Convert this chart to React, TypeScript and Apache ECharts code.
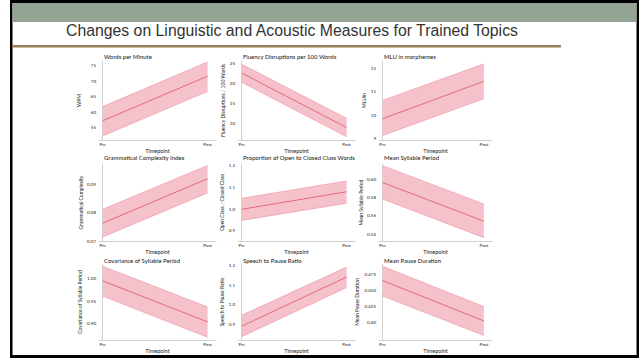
import React, { useEffect, useRef } from 'react';
import * as echarts from 'echarts';

// Model estimates for each measure: mean with confidence band at two timepoints
const timepoints = ['Pre', 'Post'];
const slideTitle = 'Changes on Linguistic and Acoustic Measures for Trained Topics';
const axisTitle = 'Timepoint';

const panelTitles = [
  'Words per Minute',
  'Fluency Disruptions per 100 Words',
  'MLU in morphemes',
  'Grammatical Complexity Index',
  'Proportion of Open to Closed Class Words',
  'Mean Syllable Period',
  'Covariance of Syllable Period',
  'Speech to Pause Ratio',
  'Mean Pause Duration',
];

const yAxisNames = [
  'WPM',
  'Fluency Disruptions / 100 Words',
  'MLUm',
  'Grammatical Complexity',
  'Open Class / Closed Class',
  'Mean Syllable Period',
  'Covariance of Syllable Period',
  'Speech to Pause Ratio',
  'Mean Pause Duration',
];

const preLow = [52.4, 20.2, 9.14, 0.0714, 0.948, 0.5785, 0.961, 0.836, 0.441];
const preMean = [57.3, 22.5, 9.85, 0.0763, 0.999, 0.5964, 0.9946, 0.89, 0.465];
const preHigh = [61.9, 24.7, 10.63, 0.0812, 1.05, 0.6147, 1.027, 0.946, 0.487];
const postLow = [66.8, 6.6, 10.7, 0.087, 1.027, 0.5364, 0.87, 1.088, 0.38];
const postMean = [71.7, 8.9, 11.44, 0.092, 1.08, 0.5543, 0.904, 1.142, 0.4025];
const postHigh = [76.3, 11.2, 12.18, 0.0967, 1.13, 0.573, 0.937, 1.193, 0.4247];

const yMin = [51.1, 5.8, 8.95, 0.07, 0.853, 0.5328, 0.864, 0.819, 0.373];
const yMax = [76.6, 25.5, 12.3, 0.0972, 1.208, 0.6165, 1.032, 1.209, 0.4906];

const tickValues = [
  [55, 60, 65, 70, 75],
  [10, 15, 20, 25],
  [9, 10, 11, 12],
  [0.07, 0.08, 0.09],
  [0.9, 1.0, 1.1, 1.2],
  [0.54, 0.56, 0.58, 0.6],
  [0.9, 0.95, 1.0],
  [0.9, 1.0, 1.1, 1.2],
  [0.4, 0.425, 0.45, 0.475],
];
const tickLabels = [
  ['55', '60', '65', '70', '75'],
  ['10', '15', '20', '25'],
  ['9', '10', '11', '12'],
  ['0.07', '0.08', '0.09'],
  ['0.9', '1.0', '1.1', '1.2'],
  ['0.54', '0.56', '0.58', '0.60'],
  ['0.90', '0.95', '1.00'],
  ['0.9', '1.0', '1.1', '1.2'],
  ['0.40', '0.425', '0.450', '0.475'],
];

// Layout of the 3x3 panel grid
const cols = [
  { left: 99, width: 117 },
  { left: 238, width: 117 },
  { left: 379, width: 113 },
];
const rows = [
  { top: 61, height: 79, titleTop: 53.5 },
  { top: 164, height: 77, titleTop: 154.5 },
  { top: 264, height: 76, titleTop: 257.5 },
];
const yNameGaps = [17.5, 12.5, 10.5, 15.5, 11.5, 14.5, 16.5, 11.5, 19.5];

const X_MIN = -0.035;
const X_MAX = 1.08;

const BAND_FILL = '#f5c2cb';
const BAND_EDGE = '#ec919e';
const MEAN_LINE = '#e36a7a';
const AXIS_LINE = '#c4c4c4';
const TEXT = '#222222';
const FONT = 'Lato, "Open Sans", sans-serif';

function buildOption() {
  const n = panelTitles.length;
  const grids: any[] = [];
  const xAxes: any[] = [];
  const yAxes: any[] = [];
  const series: any[] = [];
  const titles: any[] = [];

  titles.push({
    text: slideTitle,
    left: 66,
    top: 22,
    padding: 0,
    textStyle: {
      fontFamily: '"Liberation Sans", Arial, sans-serif',
      fontSize: 15.8,
      fontWeight: 'normal',
      color: '#333333',
    },
  });

  for (let i = 0; i < n; i++) {
    const c = cols[i % 3];
    const r = rows[Math.floor(i / 3)];
    grids.push({
      left: c.left,
      top: r.top,
      width: c.width,
      height: r.height,
      containLabel: false,
      outerBoundsMode: 'none',
    });
    titles.push({
      text: panelTitles[i],
      left: c.left + 5,
      top: r.titleTop,
      padding: 0,
      textStyle: { fontFamily: FONT, fontSize: 6, fontWeight: 'normal', color: '#111111' },
    });
    xAxes.push({
      type: 'value',
      gridIndex: i,
      min: X_MIN,
      max: X_MAX,
      name: axisTitle,
      nameLocation: 'middle',
      nameGap: 7,
      nameTextStyle: { fontFamily: FONT, fontSize: 5.5, color: TEXT },
      axisLine: { show: true, lineStyle: { color: AXIS_LINE, width: 0.8 } },
      axisTick: { show: false, customValues: [0, 1] },
      splitLine: { show: false },
      axisLabel: {
        customValues: [0, 1],
        margin: 2,
        fontFamily: FONT,
        fontSize: 4.5,
        color: TEXT,
        formatter: (v: number) => timepoints[Math.round(v)] ?? '',
      },
    });
    const ticks = tickValues[i];
    const labels = tickLabels[i];
    yAxes.push({
      type: 'value',
      gridIndex: i,
      min: yMin[i],
      max: yMax[i],
      name: yAxisNames[i],
      nameLocation: 'middle',
      nameGap: yNameGaps[i],
      nameTextStyle: { fontFamily: FONT, fontSize: 5, color: TEXT },
      axisLine: { show: true, lineStyle: { color: AXIS_LINE, width: 0.8 } },
      axisTick: { show: false, customValues: ticks },
      splitLine: { show: false },
      axisLabel: {
        customValues: ticks,
        margin: 3,
        fontFamily: FONT,
        fontSize: 4.5,
        color: TEXT,
        formatter: (v: number) => {
          const k = ticks.findIndex((t) => Math.abs(t - v) < 1e-9);
          return k >= 0 ? labels[k] : '';
        },
      },
    });
    // Confidence band between the two timepoints
    series.push({
      type: 'custom',
      xAxisIndex: i,
      yAxisIndex: i,
      silent: true,
      data: [[preLow[i], preHigh[i], postLow[i], postHigh[i]]],
      encode: { x: [], y: [0, 1, 2, 3] },
      renderItem: (_params: any, api: any) => {
        const pl = api.coord([0, api.value(0)]);
        const ph = api.coord([0, api.value(1)]);
        const ql = api.coord([1, api.value(2)]);
        const qh = api.coord([1, api.value(3)]);
        return {
          type: 'group',
          children: [
            {
              type: 'polygon',
              shape: { points: [pl, ql, qh, ph] },
              style: { fill: BAND_FILL, stroke: null },
            },
            {
              type: 'line',
              shape: { x1: pl[0], y1: pl[1], x2: ql[0], y2: ql[1] },
              style: { stroke: BAND_EDGE, lineWidth: 0.6 },
            },
            {
              type: 'line',
              shape: { x1: ph[0], y1: ph[1], x2: qh[0], y2: qh[1] },
              style: { stroke: BAND_EDGE, lineWidth: 0.6 },
            },
          ],
        };
      },
    });
    // Estimated mean
    series.push({
      type: 'line',
      xAxisIndex: i,
      yAxisIndex: i,
      data: [
        [0, preMean[i]],
        [1, postMean[i]],
      ],
      symbol: 'none',
      silent: true,
      lineStyle: { color: MEAN_LINE, width: 1 },
      z: 3,
    });
  }

  const graphic: any[] = [
    // slide frame
    { type: 'rect', z: -10, shape: { x: 10, y: 0, width: 629, height: 358 }, style: { fill: '#000000' } },
    { type: 'rect', z: -9, shape: { x: 12.5, y: 3, width: 624, height: 352 }, style: { fill: '#ffffff' } },
    // header band
    { type: 'rect', z: -8, shape: { x: 12.5, y: 3, width: 624, height: 19 }, style: { fill: '#94a494' } },
    // divider under the title
    { type: 'rect', z: -8, shape: { x: 12, y: 45, width: 549, height: 2.5 }, style: { fill: '#9b7b57' } },
  ];

  return {
    animation: false,
    backgroundColor: '#ffffff',
    title: titles,
    grid: grids,
    xAxis: xAxes,
    yAxis: yAxes,
    series,
    graphic,
  };
}

export default function App() {
  const ref = useRef<HTMLDivElement>(null);
  useEffect(() => {
    if (!ref.current) return;
    const chart = echarts.init(ref.current, undefined, { renderer: 'svg' });
    chart.setOption(buildOption() as any);
    return () => chart.dispose();
  }, []);
  return (
    <div
      ref={ref}
      style={{ position: 'fixed', left: 0, top: 0, width: 639, height: 358, background: '#fff' }}
    />
  );
}
